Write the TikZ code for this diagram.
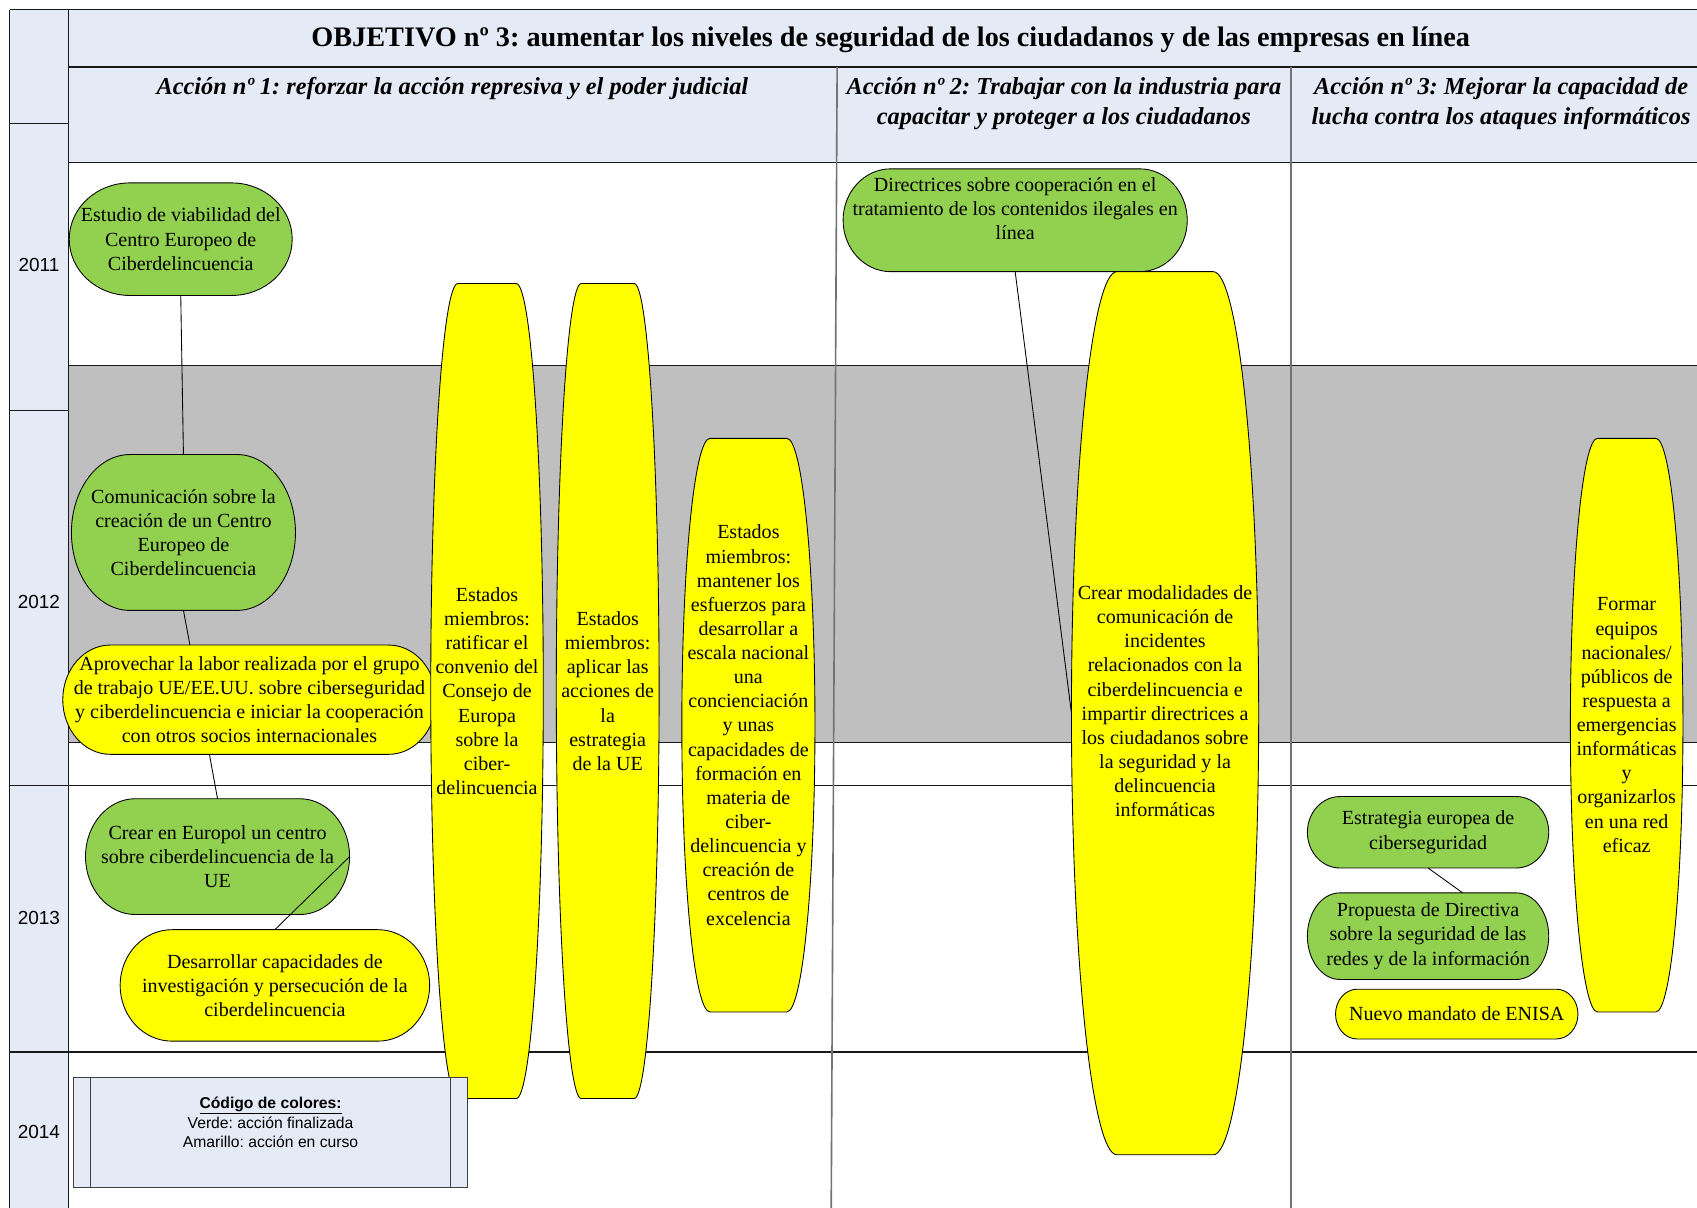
\documentclass[tikz,border=0pt]{standalone}
\usepackage{fontspec}
\setmainfont{Liberation Serif}
\setsansfont{Liberation Sans}
\frenchspacing
\definecolor{hdr}{HTML}{E4EAF6}
\definecolor{band}{HTML}{BFBFBF}
\definecolor{grn}{HTML}{92D050}
\definecolor{ylw}{HTML}{FFFF00}
\newcommand\drawpill[9]{%
  \pgfmathsetmacro\pillL{#2}%
  \pgfmathsetmacro\pillT{#3}%
  \pgfmathsetmacro\pillR{#4}%
  \pgfmathsetmacro\pillB{#5}%
  \pgfmathsetmacro\pillA{#6}%
  \pgfmathsetmacro\pillM{(#3+#5)/2}%
  \pgfmathsetmacro\pillC{(#2+#4)/2}%
  \pgfmathsetmacro\pillK{0.5523*#6}%
  \pgfmathsetmacro\pillKb{0.5523*(#5-#3)/2}%
  \pgfmathsetmacro\pillW{#4-#2}%
  \pgfmathsetmacro\pillH{#5-#3}%
  \pgfmathsetmacro\pillY{\pillM+#9}%
  \path[pillline,fill=#7] (\pillL+\pillA,\pillT) -- (\pillR-\pillA,\pillT)
    .. controls (\pillR-\pillA+\pillK,\pillT) and (\pillR,\pillM-\pillKb) .. (\pillR,\pillM)
    .. controls (\pillR,\pillM+\pillKb) and (\pillR-\pillA+\pillK,\pillB) .. (\pillR-\pillA,\pillB)
    -- (\pillL+\pillA,\pillB)
    .. controls (\pillL+\pillA-\pillK,\pillB) and (\pillL,\pillM+\pillKb) .. (\pillL,\pillM)
    .. controls (\pillL,\pillM-\pillKb) and (\pillL+\pillA-\pillK,\pillT) .. (\pillL+\pillA,\pillT) -- cycle;
  \node[pbox,minimum width=\pillW pt,minimum height=\pillH pt] (#1) at (\pillC,\pillM) {};
  \node[ptext] (#1t) at (\pillC,\pillY) {#8};
}
\begin{document}
\begin{tikzpicture}[x=1pt,y=-1pt,
  pillline/.style={draw=black,line width=0.8pt},
  conn/.style={draw=black,line width=0.8pt},
  ptext/.style={font=\fontsize{18.5}{22.3}\selectfont,align=center,inner sep=0pt},
  pbox/.style={draw=none,inner sep=0pt,outer sep=0pt},
  hgrid/.style={draw=black!90,line width=1.2pt},
  vgrid/.style={draw=black!55,line width=1.5pt},
  yr/.style={font=\sffamily\fontsize{17.5}{20}\selectfont,inner sep=0pt},
  titlef/.style={font=\bfseries\fontsize{26.1}{30}\selectfont,inner sep=0pt},
  acc/.style={font=\bfseries\itshape\fontsize{22.5}{28}\selectfont,align=center,inner sep=0pt},
  legt/.style={font=\sffamily\fontsize{14.5}{18}\selectfont,align=center,inner sep=0pt},
  legbox/.style={draw=black!75,fill=hdr,line width=1pt,inner sep=0pt}]
\useasboundingbox (0,0) rectangle (1568,1116);
\clip (0,0) rectangle (1568,1116);
% table background
\fill[white] (0,0) rectangle (1568,1116);
\fill[hdr] (9,9) rectangle (1580,150);
\fill[hdr] (9,150) rectangle (63,1120);
\fill[band] (63,338) rectangle (1580,686);
% grid lines
\draw[hgrid] (9,9) -- (1580,9);
\draw[hgrid] (9,9) -- (9,1120);
\draw[hgrid] (63,9) -- (63,1120);
\draw[hgrid] (63,62) -- (1580,62);
\draw[hgrid] (63,150) -- (1580,150);
\draw[hgrid] (63,338) -- (1580,338);
\draw[hgrid] (63,686) -- (1580,686);
\draw[hgrid] (9,726) -- (1580,726);
\draw[hgrid] (9,972) -- (1580,972);
\draw[hgrid] (9,114) -- (63,114);
\draw[hgrid] (9,379) -- (63,379);
\draw[vgrid] (773.5,62) -- (768,1120);
\draw[vgrid] (1193,62) -- (1193,1120);
% header texts
\node[titlef] (title) at (823,37) {OBJETIVO nº 3: aumentar los niveles de seguridad de los ciudadanos y de las empresas en línea};
\node[acc] (acc1) at (418,82) {Acción nº 1: reforzar la acción represiva y el poder judicial};
\node[acc] (acc2) at (983,96) {Acción nº 2: Trabajar con la industria para\\capacitar y proteger a los ciudadanos};
\node[acc] (acc3) at (1387,96) {Acción nº 3: Mejorar la capacidad de\\lucha contra los ataques informáticos};
% years
\node[yr] (y2011) at (36,245) {2011};
\node[yr] (y2012) at (36,556) {2012};
\node[yr] (y2013) at (36,848) {2013};
\node[yr] (y2014) at (36,1046) {2014};
% action shapes
\drawpill{n1}{64}{169}{270}{273}{56}{grn}{Estudio de viabilidad del\\Centro Europeo de\\Ciberdelincuencia}{0}
\drawpill{n2}{66}{420}{273}{564}{54}{grn}{Comunicación sobre la\\creación de un Centro\\Europeo de\\Ciberdelincuencia}{0}
\drawpill{n3}{58}{596}{403}{697}{44}{ylw}{Aprovechar la labor realizada por el grupo\\de trabajo UE/EE.UU. sobre ciberseguridad\\y ciberdelincuencia e iniciar la cooperación\\con otros socios internacionales}{0}
\drawpill{n4}{79}{738}{323}{845}{46}{grn}{Crear en Europol un centro\\sobre ciberdelincuencia de la\\UE}{0}
\drawpill{n5}{111}{859}{397}{962}{48}{ylw}{Desarrollar capacidades de\\investigación y persecución de la\\ciberdelincuencia}{0}
\drawpill{n6}{398}{262}{502}{1015}{25}{ylw}{Estados\\miembros:\\ratificar el\\convenio del\\Consejo de\\Europa\\sobre la\\ciber-\\delincuencia}{0}
\drawpill{n7}{514}{262}{609}{1015}{23}{ylw}{Estados\\miembros:\\aplicar las\\acciones de\\la\\estrategia\\de la UE}{0}
\drawpill{n8}{630}{405}{753}{935}{26}{ylw}{Estados\\miembros:\\mantener los\\esfuerzos para\\desarrollar a\\escala nacional\\una\\concienciación\\y unas\\capacidades de\\formación en\\materia de\\ciber-\\delincuencia y\\creación de\\centros de\\excelencia}{0}
\drawpill{n9}{779}{156}{1097}{251}{44}{grn}{Directrices sobre cooperación en el\\tratamiento de los contenidos ilegales en\\línea}{-10.5}
\drawpill{n10}{990}{251}{1163}{1067}{42}{ylw}{Crear modalidades de\\comunicación de\\incidentes\\relacionados con la\\ciberdelincuencia e\\impartir directrices a\\los ciudadanos sobre\\la seguridad y la\\delincuencia\\informáticas}{-11}
\drawpill{n11}{1451}{405}{1555}{935}{25}{ylw}{Formar\\equipos\\nacionales/\\públicos de\\respuesta a\\emergencias\\informáticas\\y\\organizarlos\\en una red\\eficaz}{0}
\drawpill{n12}{1208}{736}{1431}{802}{30}{grn}{Estrategia europea de\\ciberseguridad}{0}
\drawpill{n13}{1208}{825}{1431}{905}{30}{grn}{Propuesta de Directiva\\sobre la seguridad de las\\redes y de la información}{0}
\drawpill{n14}{1234}{914}{1458}{960}{20}{ylw}{Nuevo mandato de ENISA}{0}
% connectors
\draw[conn] (n1.south) -- (n2.north);
\draw[conn] (n2.south) -- ([xshift=-55pt]n3.north);
\draw[conn] ([xshift=-37pt]n3.south) -- (n4.north);
\draw[conn] (n4.east) -- (n5.north);
\draw[conn] (n9.south) -- (n10.west);
\draw[conn] (n12.south) -- ([xshift=32pt]n13.north);
% legend
\node[legbox,minimum width=364pt,minimum height=101pt] (leg) at (250,1046.5) {};
\draw[draw=black!75,line width=1pt] ([xshift=16pt]leg.north west) -- ([xshift=16pt]leg.south west);
\draw[draw=black!75,line width=1pt] ([xshift=-16pt]leg.north east) -- ([xshift=-16pt]leg.south east);
\node[legt] (legtext) at (250,1037) {\underline{\textbf{Código de colores:}}\\Verde: acción finalizada\\Amarillo: acción en curso};
\end{tikzpicture}
\end{document}
